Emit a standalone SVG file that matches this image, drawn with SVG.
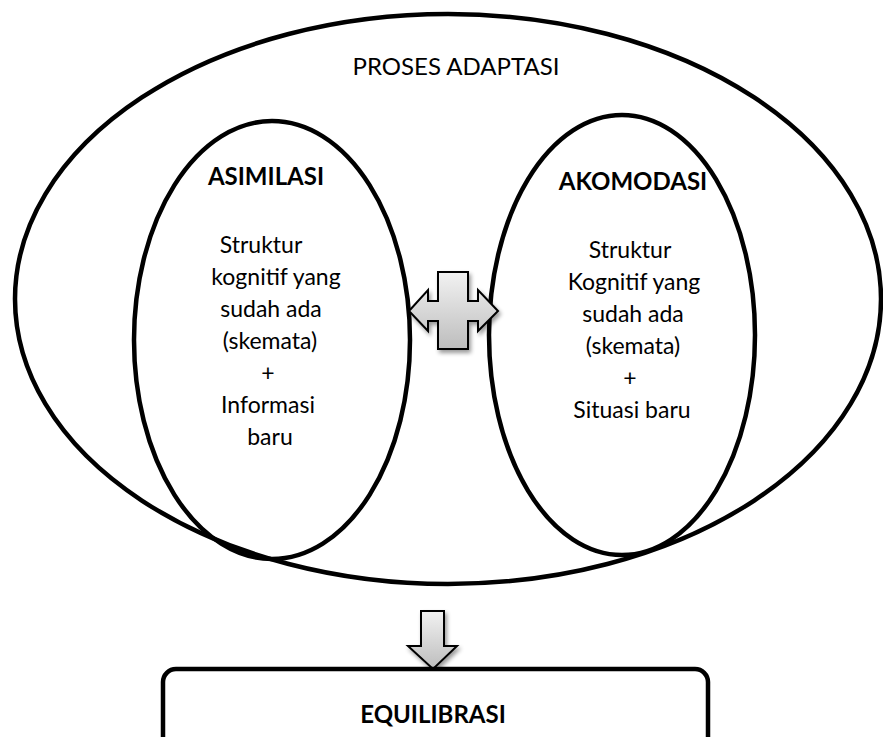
<svg xmlns="http://www.w3.org/2000/svg" width="883" height="737" viewBox="0 0 883 737">
<defs>
<linearGradient id="g" x1="0" y1="0" x2="0" y2="1">
<stop offset="0" stop-color="#f2f2f2"/>
<stop offset="1" stop-color="#bdbdbd"/>
</linearGradient>
<filter id="sh" x="-20%" y="-20%" width="150%" height="150%">
<feGaussianBlur in="SourceAlpha" stdDeviation="2"/>
<feOffset dx="2" dy="3" result="o"/>
<feComponentTransfer><feFuncA type="linear" slope="0.4"/></feComponentTransfer>
<feMerge><feMergeNode/><feMergeNode in="SourceGraphic"/></feMerge>
</filter>
</defs>
<style>
.e{fill:none;stroke:#000;stroke-width:4.5}
.t{font-family:Lato,"Open Sans",sans-serif;font-size:23px;fill:#000;text-anchor:middle}
.h{font-size:24px}
.b{font-weight:bold;font-size:24px}
.ar{fill:url(#g);stroke:#000;stroke-width:2;stroke-linejoin:miter;filter:url(#sh)}
</style>
<rect width="883" height="737" fill="#fff"/>
<g id="adaptasi">
<ellipse class="e" cx="448" cy="299" rx="433" ry="285"/>
<text class="t h" x="456" y="75">PROSES ADAPTASI</text>
</g>
<g id="asimilasi">
<ellipse class="e" cx="272" cy="340" rx="138" ry="219"/>
<text class="t b" x="266" y="185">ASIMILASI</text>
<text class="t" x="261" y="253">Struktur</text>
<text class="t" x="276" y="285">kognitif yang</text>
<text class="t" x="271" y="317">sudah ada</text>
<text class="t" x="270" y="349">(skemata)</text>
<text class="t" x="268" y="381">+</text>
<text class="t" x="268" y="413">Informasi</text>
<text class="t" x="270" y="445">baru</text>
</g>
<g id="akomodasi">
<ellipse class="e" cx="622" cy="335" rx="133" ry="220"/>
<text class="t b" x="633" y="190">AKOMODASI</text>
<text class="t" x="630" y="258">Struktur</text>
<text class="t" x="634" y="290">Kognitif yang</text>
<text class="t" x="633" y="322">sudah ada</text>
<text class="t" x="633" y="354">(skemata)</text>
<text class="t" x="630" y="386">+</text>
<text class="t" x="632" y="418">Situasi baru</text>
</g>
<g id="connectors">
<path class="ar" d="M409,311 L428,290 L428,301 L438,301 L438,272 L468,272 L468,301 L478,301 L478,290 L498,311 L478,331 L478,321 L468,321 L468,349 L438,349 L438,321 L428,321 L428,331 Z"/>
<path class="ar" d="M421,611 L444,611 L444,646 L457,646 L433,669 L408,646 L421,646 Z"/>
</g>
<g id="equilibrasi">
<rect x="163" y="669" width="545" height="90" rx="13" fill="#fff" stroke="#000" stroke-width="4.5"/>
<text class="t b" x="433" y="723">EQUILIBRASI</text>
</g>
</svg>
